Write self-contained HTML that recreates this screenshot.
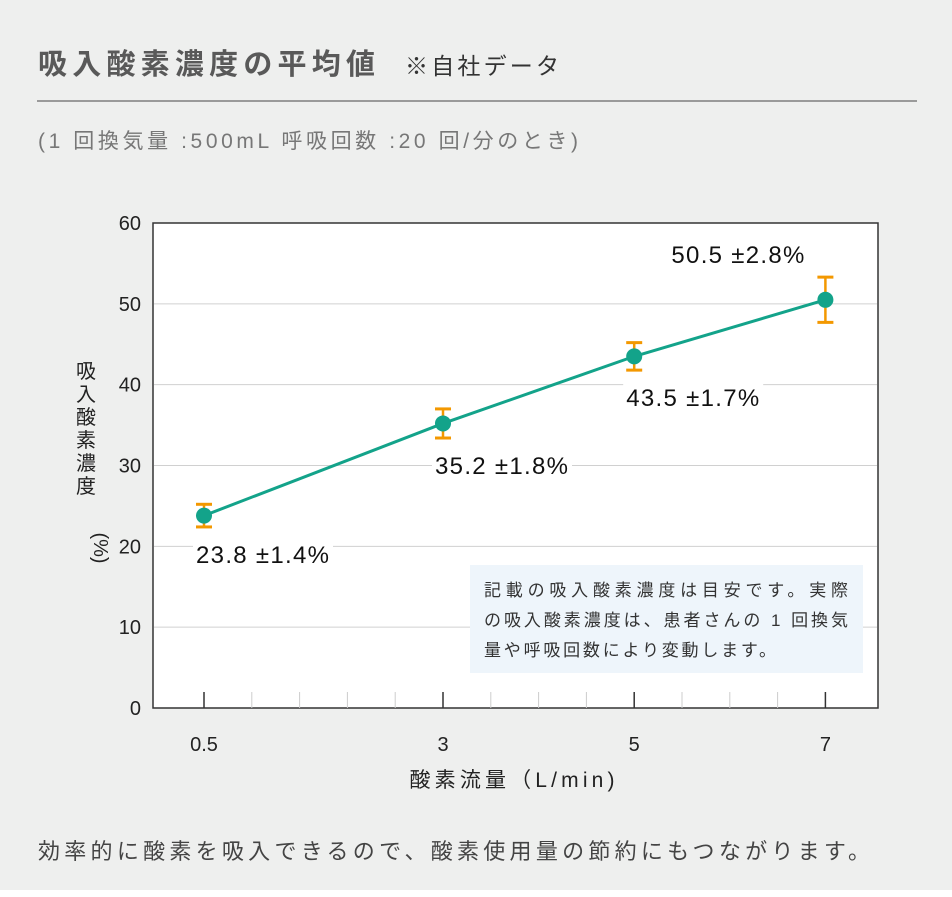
<!DOCTYPE html>
<html><head><meta charset="utf-8"><style>
html,body{margin:0;padding:0;}
body{width:952px;height:897px;background:#fff;font-family:"Liberation Sans","Noto Sans CJK JP",sans-serif;}
#wrap{position:absolute;left:0;top:0;width:952px;height:890px;background:#eeefee;}
</style></head><body>
<div id="wrap">
<svg width="952" height="897" xmlns="http://www.w3.org/2000/svg" style="position:absolute;left:0;top:0">
<text x="38" y="74" font-size="29" font-weight="bold" fill="#595959" textLength="337" lengthAdjust="spacing" font-family="Liberation Sans, Noto Sans CJK JP, sans-serif">吸入酸素濃度の平均値</text>
<text x="405" y="74" font-size="23" fill="#333" textLength="154" lengthAdjust="spacing" font-family="Liberation Sans, Noto Sans CJK JP, sans-serif">※自社データ</text>
<line x1="37" y1="101" x2="917" y2="101" stroke="#9a9a9a" stroke-width="2"/>
<text x="38" y="148" font-size="21" fill="#777" textLength="540" lengthAdjust="spacing" font-family="Liberation Sans, Noto Sans CJK JP, sans-serif">(1 回換気量 :500mL  呼吸回数 :20 回/分のとき)</text>
<rect x="153" y="223" width="725" height="485" fill="#fff" stroke="#333" stroke-width="1.5"/>
<g id="grid"></g>
<g id="xticks"></g>
<g id="yticklabels"></g>
<g id="xticklabels"></g>
<rect x="470" y="565" width="393" height="108" fill="#eef5fb"/>
<text font-size="17" fill="#333" font-family="Liberation Sans, Noto Sans CJK JP, sans-serif">
<tspan x="484" y="596" textLength="364" lengthAdjust="spacing">記載の吸入酸素濃度は目安です。実際</tspan>
<tspan x="484" y="626" textLength="364" lengthAdjust="spacing">の吸入酸素濃度は、患者さんの 1 回換気</tspan>
<tspan x="484" y="656" textLength="292" lengthAdjust="spacing">量や呼吸回数により変動します。</tspan>
</text>
<g id="series"></g>
<text x="512" y="787" font-size="21" fill="#222" text-anchor="middle" textLength="205" lengthAdjust="spacing" font-family="Liberation Sans, Noto Sans CJK JP, sans-serif">酸素流量（L/min)</text>
<text font-size="20" fill="#222" text-anchor="middle" font-family="Liberation Sans, Noto Sans CJK JP, sans-serif">
<tspan x="86" y="378">吸</tspan><tspan x="86" y="401">入</tspan><tspan x="86" y="424">酸</tspan><tspan x="86" y="447">素</tspan><tspan x="86" y="470">濃</tspan><tspan x="86" y="493">度</tspan>
</text>
<text x="86" y="540" font-size="20" fill="#222" text-anchor="middle" font-family="Liberation Sans, Noto Sans CJK JP, sans-serif" transform="rotate(90 86 548)">(%)</text>
<text x="38" y="859" font-size="22" fill="#444" textLength="832" lengthAdjust="spacing" font-family="Liberation Sans, Noto Sans CJK JP, sans-serif">効率的に酸素を吸入できるので、酸素使用量の節約にもつながります。</text>
</svg>
</div>
<script>
const categories=[0.5,3,5,7];
const xTickLabels=["0.5","3","5","7"];
const values=[23.8,35.2,43.5,50.5];
const errors=[1.4,1.8,1.7,2.8];
const yTicks=[0,10,20,30,40,50,60];
const minorTicks=[1,1.5,2,2.5,3.5,4,4.5,5.5,6,6.5];
const labelBelow=[true,true,true,false];

const NS="http://www.w3.org/2000/svg";
function xs(v){return 204+(v-0.5)*95.6;}
function ys(v){return 708-v*(485/60);}
function mk(tag,attrs,parent){const e=document.createElementNS(NS,tag);for(const k in attrs)e.setAttribute(k,attrs[k]);parent.appendChild(e);return e;}
const grid=document.getElementById('grid'),xt=document.getElementById('xticks'),ytl=document.getElementById('yticklabels'),xtl=document.getElementById('xticklabels'),ser=document.getElementById('series');
yTicks.forEach(v=>{
  if(v>0&&v<60){const l=mk('line',{x1:154,x2:877,y1:ys(v),y2:ys(v),stroke:'#d0d0d0','stroke-width':1},grid);
  
  }
  const t=mk('text',{x:141,y:ys(v)+7,'font-size':20,fill:'#222','text-anchor':'end'},ytl);
  t.textContent=String(v);
  
  
});
minorTicks.forEach(v=>{
  const l=mk('line',{x1:xs(v),x2:xs(v),y1:692,y2:708,stroke:'#ccc','stroke-width':1},xt);
  
  
});
categories.forEach((v,i)=>{
  const l=mk('line',{x1:xs(v),x2:xs(v),y1:692,y2:708,stroke:'#333','stroke-width':1.5},xt);
  
  
  const t=mk('text',{x:xs(v),y:751,'font-size':20,fill:'#222','text-anchor':'middle'},xtl);
  t.textContent=xTickLabels[i];
  
  
});
const pts=categories.map((c,i)=>xs(c)+','+ys(values[i])).join(' ');
const line=mk('polyline',{points:pts,fill:'none',stroke:'#13a38a','stroke-width':3},ser);


categories.forEach((c,i)=>{
  const x=xs(c),t1=ys(values[i]+errors[i]),t2=ys(values[i]-errors[i]);
  const g=mk('g',{},ser);
  
  
  mk('line',{x1:x,x2:x,y1:t1,y2:t2,stroke:'#f39800','stroke-width':2.5},g);
  mk('line',{x1:x-8,x2:x+8,y1:t1,y2:t1,stroke:'#f39800','stroke-width':3},g);
  mk('line',{x1:x-8,x2:x+8,y1:t2,y2:t2,stroke:'#f39800','stroke-width':3},g);
});
categories.forEach((c,i)=>{
  const x=xs(c),y=ys(values[i]);
  const p=mk('circle',{cx:x,cy:y,r:8,fill:'#13a38a'},ser);
  
  
  const ly=labelBelow[i]?ys(values[i]-errors[i])+36:ys(values[i]+errors[i])-14;
  const lx=labelBelow[i]?x-8:x-154;
  const bg=mk('rect',{x:lx-3,y:ly-23,width:140,height:30,fill:'#fff'},ser);
  
  
  const t=mk('text',{x:lx,y:ly,'font-size':24,fill:'#111',textLength:133,lengthAdjust:'spacing'},ser);
  t.textContent=values[i].toFixed(1)+'  ±'+errors[i].toFixed(1)+'%';
  
  
});
</script>
</body></html>
